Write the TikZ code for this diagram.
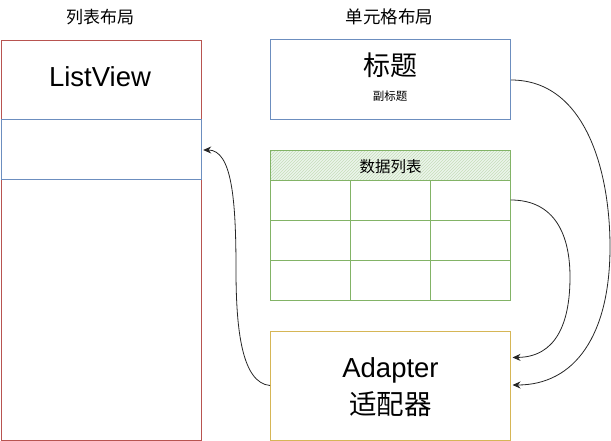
\documentclass[tikz,border=0pt]{standalone}
\usepackage{fontspec}
\setmainfont{Liberation Sans}
\newfontfamily\cjk{Noto Sans CJK SC}
\usetikzlibrary{arrows.meta,patterns}
\definecolor{dred}{HTML}{B85450}
\definecolor{dblue}{HTML}{6C8EBF}
\definecolor{dgreen}{HTML}{82B366}
\definecolor{dgreenfill}{HTML}{D5E8D4}
\definecolor{dyellow}{HTML}{D6B656}
\tikzset{
  redbox/.style={draw=dred,line width=1pt},
  bluebox/.style={draw=dblue,line width=1pt},
  greenbox/.style={draw=dgreen,line width=1pt},
  yellowbox/.style={draw=dyellow,line width=1pt},
  conn/.style={draw=black!85,line width=0.8pt,-{Stealth[length=8pt,width=7pt]}},
  lbl/.style={inner sep=0pt,anchor=center},
}
\begin{document}
\begin{tikzpicture}[x=1pt,y=-1pt]
\useasboundingbox (0,0) rectangle (611,441);
% titles
\node[lbl,font=\cjk\fontsize{17}{20}\selectfont] (t1) at (100,17) {列表布局};
\node[lbl,font=\cjk\fontsize{17.5}{20}\selectfont] (t2) at (389.5,17) {单元格布局};
% list view
\draw[redbox] (1,41) rectangle (201,440);
\node[lbl,font=\fontsize{27.5}{30}\selectfont] (lv) at (100,77) {ListView};
\draw[bluebox] (1,120) rectangle (201,180);
\node[inner sep=0pt,minimum width=200pt,minimum height=60pt] (rowbox) at (101,150) {};
% title cell
\node[bluebox,minimum width=240pt,minimum height=80pt,inner sep=0pt] (title) at (390.5,80) {};
\node[lbl,font=\cjk\fontsize{27}{30}\selectfont] (tt) at (390,65) {标题};
\node[lbl,font=\cjk\fontsize{11.5}{14}\selectfont] (st) at (390,96) {副标题};
% table
\fill[dgreenfill!45] (270.5,151) rectangle (510.5,181);
\fill[pattern=north east lines,pattern color=dgreen!45] (270.5,151) rectangle (510.5,181);
\node[lbl,font=\cjk\fontsize{15.5}{18}\selectfont] (th) at (390.5,167) {数据列表};
\draw[greenbox] (270.5,151) rectangle (510.5,300);
\draw[greenbox] (270.5,181) -- (510.5,181);
\draw[greenbox] (270.5,220.5) -- (510.5,220.5);
\draw[greenbox] (270.5,260.5) -- (510.5,260.5);
\draw[greenbox] (350.5,181) -- (350.5,300);
\draw[greenbox] (430.5,181) -- (430.5,300);
\node[inner sep=0pt,minimum width=240pt,minimum height=149pt] (table) at (390.5,225.5) {};
% adapter
\node[yellowbox,minimum width=240pt,minimum height=109pt,inner sep=0pt] (adapter) at (390.5,385.5) {};
\node[lbl,font=\fontsize{27.5}{30}\selectfont] (ad1) at (390.5,370) {Adapter};
\node[lbl,font=\cjk\fontsize{27.5}{30}\selectfont] (ad2) at (390.5,404) {适配器};
% connectors
\coordinate (a1s) at (title.east);
\coordinate (a1e) at ([xshift=1.5pt,yshift=0.5pt]adapter.east);
\coordinate (a2s) at ([yshift=25.5pt]table.east);
\coordinate (a2e) at ([xshift=1.5pt,yshift=28pt]adapter.east);
\coordinate (a3s) at (adapter.west);
\coordinate (a3e) at ([xshift=2pt]rowbox.east);
\draw[conn] (a1s) .. controls (585,80) and (610,170) .. (610,247)
  .. controls (610,335) and (575,385) .. (a1e);
\draw[conn] (a2s) .. controls (555,200) and (570,235) .. (570,277)
  .. controls (570,325) and (555,357) .. (a2e);
\draw[conn] (a3s) .. controls (242,383) and (236,330) .. (236,270)
  .. controls (236,200) and (232,150) .. (a3e);
\end{tikzpicture}
\end{document}
